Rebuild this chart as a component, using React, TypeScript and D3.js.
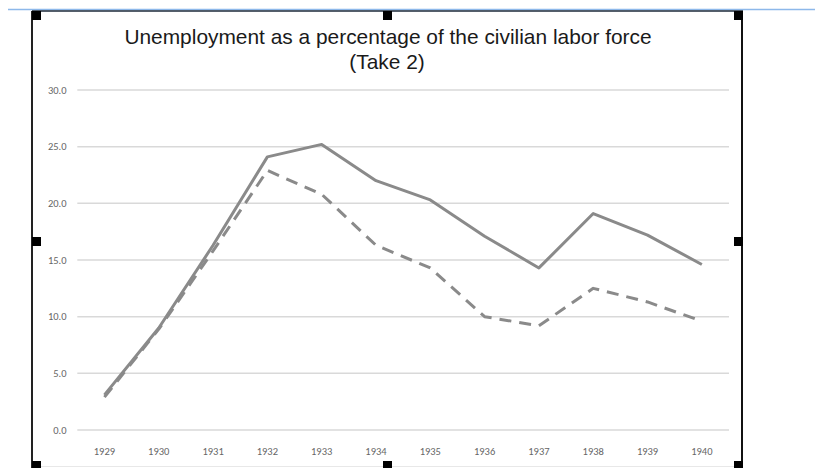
import React from "react";
import * as d3 from "d3";

const years = ["1929", "1930", "1931", "1932", "1933", "1934", "1935", "1936", "1937", "1938", "1939", "1940"];
const solidSeries = [3.1, 9.0, 16.3, 24.1, 25.2, 22.0, 20.3, 17.1, 14.3, 19.1, 17.2, 14.6];
const dashedSeries = [2.9, 8.9, 15.8, 22.9, 20.8, 16.3, 14.3, 10.0, 9.2, 12.5, 11.3, 9.6];
const yTicks = [0, 5, 10, 15, 20, 25, 30];
const titleLines = ["Unemployment as a percentage of the civilian labor force", "(Take 2)"];

const W = 815;
const H = 468;
const plotLeft = 77.3;
const plotRight = 729;
const plotTop = 90;
const plotBottom = 430;

export default function App() {
  const x = d3.scalePoint<string>().domain(years).range([plotLeft, plotRight]).padding(0.5);
  const y = d3.scaleLinear().domain([0, 30]).range([plotBottom, plotTop]);
  const line = d3
    .line<number>()
    .x((_, i) => x(years[i]) as number)
    .y((d) => y(d));

  const handle = 9;
  const box = { l: 32, t: 11, r: 743, b: 471 };
  const midX = (box.l + box.r) / 2;
  const midY = 237;
  const handles = [
    [box.l, box.t],
    [midX - handle / 2, box.t],
    [box.r - handle, box.t],
    [box.l, midY],
    [box.r - handle, midY],
    [box.l, 461],
    [midX - handle / 2, 461],
    [box.r - handle, 461],
  ];

  const font = "'Liberation Sans', Arial, sans-serif";
  const labelFont = "Carlito, 'Liberation Sans Narrow', 'DejaVu Sans Condensed', 'Liberation Sans', sans-serif";

  return (
    <svg
      width={W}
      height={H}
      style={{ position: "absolute", left: 0, top: 0, background: "#fff" }}
    >
      <rect x={0} y={0} width={W} height={H} fill="#fff" />
      {/* page blue rule */}
      <line x1={8} x2={W} y1={9.5} y2={9.5} stroke="#8db8ea" strokeWidth={1.5} />
      {/* faint bottom rule */}
      <line x1={32} x2={743} y1={466.5} y2={466.5} stroke="#e8e8e8" strokeWidth={1} />
      {/* frame */}
      <line x1={box.l} x2={box.r} y1={11} y2={11} stroke="#1c2a3a" strokeWidth={1.5} />
      <line x1={32} x2={32} y1={11} y2={H} stroke="#222" strokeWidth={2} />
      <line x1={742} x2={742} y1={11} y2={H} stroke="#111" strokeWidth={2} />

      {/* gridlines */}
      {yTicks.map((t) => (
        <line
          key={"g" + t}
          x1={plotLeft}
          x2={plotRight}
          y1={y(t)}
          y2={y(t)}
          stroke="#d9d9d9"
          strokeWidth={1.5}
        />
      ))}
      {yTicks.map((t) => (
        <text
          key={"yl" + t}
          x={66.5}
          y={y(t)}
          dy="0.35em"
          textAnchor="end"
          fontFamily={labelFont}
          fontSize={10.5}
          fill="#666"
        >
          {d3.format(".1f")(t)}
        </text>
      ))}
      {years.map((yr) => (
        <text
          key={"xl" + yr}
          x={x(yr)}
          y={454.5}
          textAnchor="middle"
          fontFamily={labelFont}
          fontSize={10.5}
          fill="#666"
        >
          {yr}
        </text>
      ))}

      {/* series */}
      <path
        d={line(dashedSeries) || ""}
        fill="none"
        stroke="#8a8a8a"
        strokeWidth={3}
        strokeDasharray="12,8"
        strokeLinejoin="round"
      />
      <path
        d={line(solidSeries) || ""}
        fill="none"
        stroke="#8a8a8a"
        strokeWidth={3}
        strokeLinejoin="round"
      />

      {/* title */}
      <text x={388} y={43.5} textAnchor="middle" fontFamily={font} fontSize={20.9} fill="#1a1a1a">
        {titleLines[0]}
      </text>
      <text x={387} y={68.5} textAnchor="middle" fontFamily={font} fontSize={20.9} fill="#1a1a1a">
        {titleLines[1]}
      </text>

      {/* selection handles */}
      {handles.map(([hx, hy], i) => (
        <rect key={"h" + i} x={hx} y={hy} width={handle} height={handle} fill="#000" />
      ))}
    </svg>
  );
}
